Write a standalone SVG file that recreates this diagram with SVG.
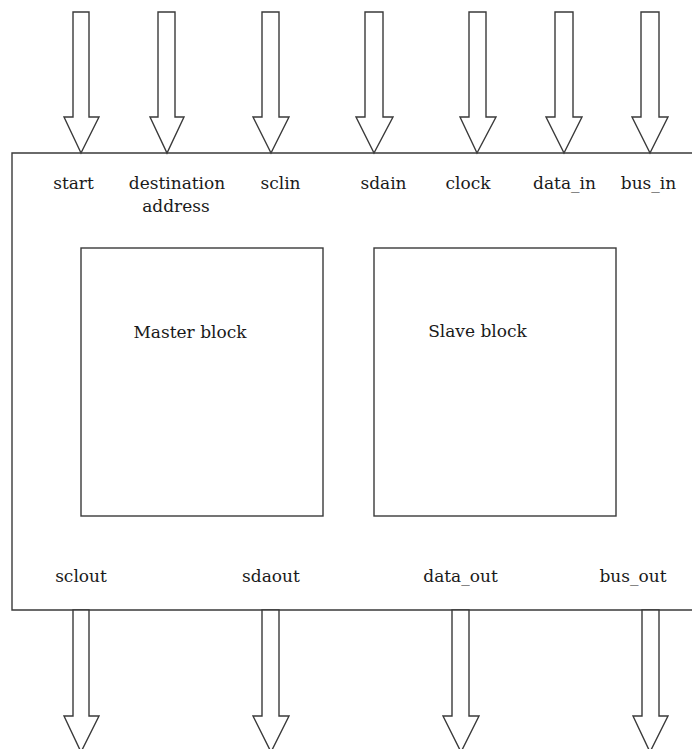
<svg xmlns="http://www.w3.org/2000/svg" width="692" height="749" viewBox="0 0 692 749">
<style>
.ln{fill:#ffffff;stroke:#3a3a3a;stroke-width:1.4;stroke-linejoin:miter}
.t{font-family:"DejaVu Serif","Liberation Serif",serif;font-size:17px;fill:#1a1a1a;text-anchor:middle}
</style>
<rect x="0" y="0" width="692" height="749" fill="#ffffff"/>
<g id="chip">
<path class="ln" d="M 700 153 H 12 V 610 H 700"/>
</g>
<g id="master">
<rect class="ln" x="81" y="248" width="242" height="268"/>
<text class="t" x="190" y="338">Master block</text>
</g>
<g id="slave">
<rect class="ln" x="374" y="248" width="242" height="268"/>
<text class="t" x="477.5" y="337">Slave block</text>
</g>
<g id="connectors">
<polygon class="ln" points="73,12 89,12 89,117 99,117 81,153 64,117 73,117"/>
<polygon class="ln" points="158,12 175,12 175,117 184,117 167,153 150,117 158,117"/>
<polygon class="ln" points="262,12 279,12 279,117 289,117 271,153 253,117 262,117"/>
<polygon class="ln" points="365,12 383,12 383,117 393,117 374,153 356,117 365,117"/>
<polygon class="ln" points="469,12 486,12 486,117 496,117 477,153 460,117 469,117"/>
<polygon class="ln" points="555,12 573,12 573,117 582,117 564,153 546,117 555,117"/>
<polygon class="ln" points="641,12 659,12 659,117 668,117 650,153 632,117 641,117"/>
<polygon class="ln" points="73,610 89,610 89,716 99,716 81,752 64,716 73,716"/>
<polygon class="ln" points="262,610 279,610 279,716 289,716 271,752 253,716 262,716"/>
<polygon class="ln" points="452,610 469,610 469,716 479,716 461,752 443,716 452,716"/>
<polygon class="ln" points="642,610 659,610 659,716 668,716 650,752 633,716 642,716"/>
</g>
<g id="ports">
<text class="t" x="73.5" y="189">start</text>
<text class="t" x="177" y="189">destination</text>
<text class="t" x="176" y="212">address</text>
<text class="t" x="280.5" y="189">sclin</text>
<text class="t" x="383.5" y="189">sdain</text>
<text class="t" x="468" y="189">clock</text>
<text class="t" x="564.5" y="189">data_in</text>
<text class="t" x="648.5" y="189">bus_in</text>
<text class="t" x="81" y="582">sclout</text>
<text class="t" x="271" y="582">sdaout</text>
<text class="t" x="460.5" y="582">data_out</text>
<text class="t" x="633" y="582">bus_out</text>
</g>
</svg>
